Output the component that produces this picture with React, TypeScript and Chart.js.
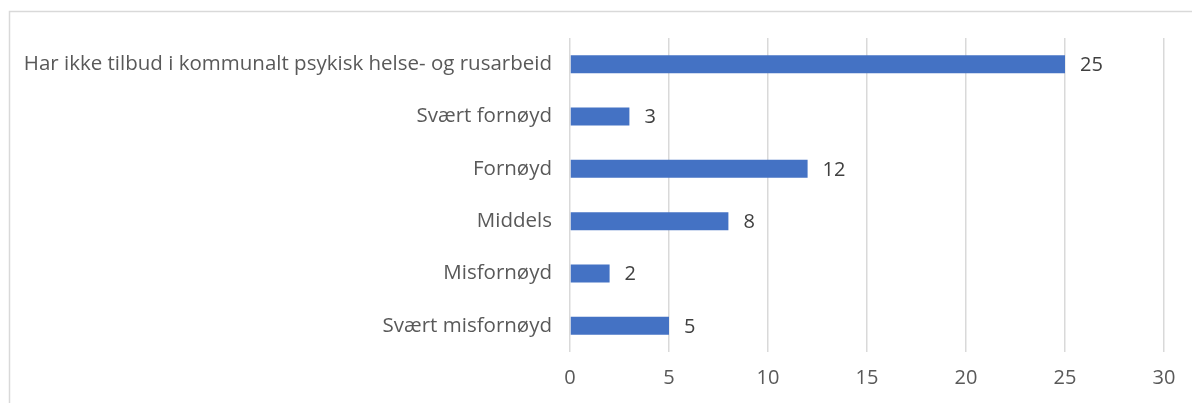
import React, { useEffect, useRef } from "react";
import { Chart, registerables } from "chart.js";

Chart.register(...registerables);

const categories = [
  "Har ikke tilbud i kommunalt psykisk helse- og rusarbeid",
  "Svært fornøyd",
  "Fornøyd",
  "Middels",
  "Misfornøyd",
  "Svært misfornøyd",
];
const values = [25, 3, 12, 8, 2, 5];
const xMin = 0;
const xMax = 30;
const xStep = 5;

const FONT = "'Open Sans', sans-serif";

const framePlugin = {
  id: "frame",
  beforeDraw(chart: any) {
    const ctx = chart.ctx;
    ctx.save();
    ctx.fillStyle = "#ffffff";
    ctx.fillRect(0, 0, chart.width, chart.height);
    ctx.strokeStyle = "#d9d9d9";
    ctx.lineWidth = 1.5;
    ctx.beginPath();
    ctx.moveTo(9.5, chart.height);
    ctx.lineTo(9.5, 11.5);
    ctx.lineTo(chart.width, 11.5);
    ctx.stroke();
    ctx.restore();
  },
};

const valueLabelPlugin = {
  id: "valueLabels",
  afterDatasetsDraw(chart: any) {
    const ctx = chart.ctx;
    const meta = chart.getDatasetMeta(0);
    ctx.save();
    ctx.font = `20px ${FONT}`;
    ctx.fillStyle = "#404040";
    ctx.textAlign = "left";
    ctx.textBaseline = "middle";
    meta.data.forEach((bar: any, i: number) => {
      const v = chart.data.datasets[0].data[i];
      ctx.fillText(String(v), bar.x + 15, bar.y + 1);
    });
    ctx.restore();
  },
};

export default function App() {
  const ref = useRef<HTMLCanvasElement>(null);
  useEffect(() => {
    if (!ref.current) return;
    const chart = new Chart(ref.current, {
      type: "bar",
      data: {
        labels: categories,
        datasets: [
          {
            data: values,
            backgroundColor: "#4472C4",
            borderWidth: 0,
            barPercentage: 0.69,
            categoryPercentage: 0.5,
          },
        ],
      },
      options: {
        indexAxis: "y",
        animation: false,
        responsive: false,
        maintainAspectRatio: false,
        layout: { padding: { top: 38, right: 28, left: 0, bottom: 0 } },
        plugins: {
          legend: { display: false },
          tooltip: { enabled: false },
          title: { display: false },
        },
        scales: {
          x: {
            min: xMin,
            max: xMax,
            ticks: {
              stepSize: xStep,
              color: "#595959",
              font: { family: FONT, size: 20 },
              padding: 14,
            },
            grid: { color: "#d9d9d9", lineWidth: 1.5, drawTicks: false },
            border: { display: false },
            afterFit(scale: any) {
              scale.height = 51;
            },
          },
          y: {
            ticks: {
              color: "#595959",
              font: { family: FONT, size: 20.5 },
              padding: 18,
            },
            grid: { display: false, drawTicks: false },
            border: { display: false },
            afterFit(scale: any) {
              scale.width = 570;
            },
          },
        },
      },
      plugins: [framePlugin, valueLabelPlugin],
    });
    return () => chart.destroy();
  }, []);
  return (
    <div style={{ position: "fixed", left: 0, top: 0, width: 1192, height: 403 }}>
      <canvas ref={ref} width={1192} height={403} style={{ width: 1192, height: 403, display: "block" }} />
    </div>
  );
}
